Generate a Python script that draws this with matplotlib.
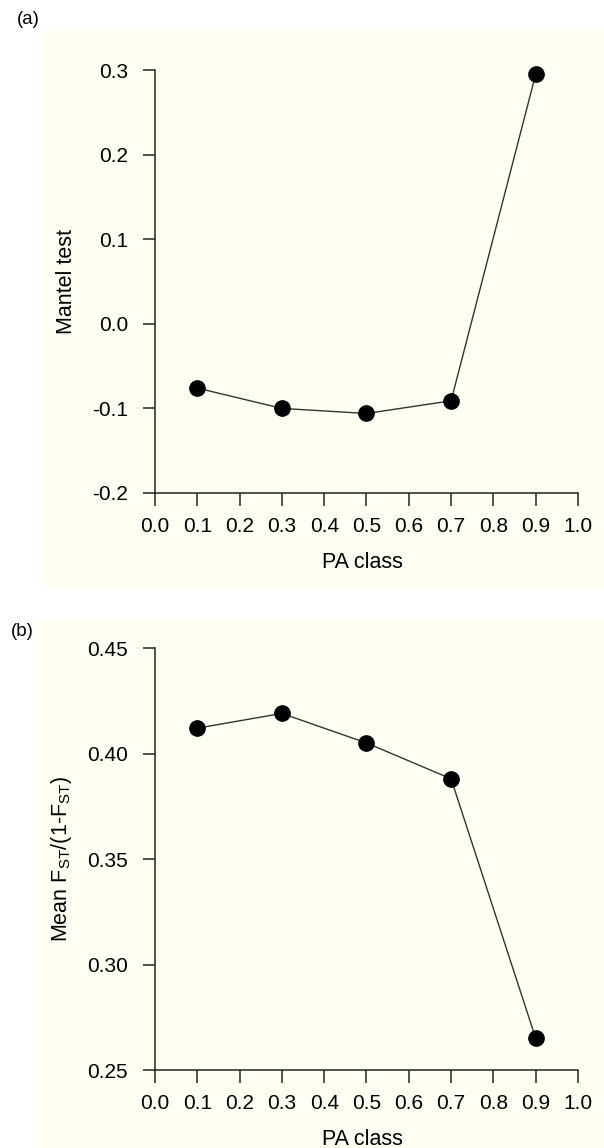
import matplotlib
matplotlib.use('Agg')
import matplotlib.pyplot as plt
from matplotlib.patches import Rectangle

plt.rcParams['font.family'] = ['Liberation Sans', 'DejaVu Sans']
plt.rcParams['mathtext.default'] = 'regular'

# data
pa_class = [0.1, 0.3, 0.5, 0.7, 0.9]
mantel = [-0.076, -0.100, -0.106, -0.091, 0.295]
mean_fst = [0.412, 0.419, 0.405, 0.388, 0.265]

x_ticks = [0.0, 0.1, 0.2, 0.3, 0.4, 0.5, 0.6, 0.7, 0.8, 0.9, 1.0]
mantel_ticks = [-0.2, -0.1, 0.0, 0.1, 0.2, 0.3]
fst_ticks = [0.25, 0.30, 0.35, 0.40, 0.45]

cream = '#fffef3'
tick_fs = 15
lab_fs = 15.5
W, H = 604, 1148

fig = plt.figure(figsize=(W / 100, H / 100), dpi=100)
fig.patch.set_facecolor('white')

# scanned cream background behind each panel
fig.patches.append(Rectangle((42 / W, 1 - 587 / H), 562 / W, 557 / H,
                             transform=fig.transFigure, color=cream, zorder=-5))
fig.patches.append(Rectangle((33 / W, 0), 571 / W, 1 - 620 / H,
                             transform=fig.transFigure, color=cream, zorder=-5))


def style(ax):
    ax.set_facecolor(cream)
    for s in ['top', 'right']:
        ax.spines[s].set_visible(False)
    for s in ['left', 'bottom']:
        ax.spines[s].set_linewidth(1.1)
        ax.spines[s].set_color('#222222')
    ax.tick_params(direction='out', length=9, width=1.1, color='#222222',
                   labelsize=tick_fs)
    ax.tick_params(axis='x', pad=8)
    ax.tick_params(axis='y', pad=10.5)
    ax.set_xlim(0.0, 1.0)
    ax.set_xticks(x_ticks)
    ax.set_xticklabels(['%.1f' % t for t in x_ticks])


#------------------------------------------------------------ (a) Mantel test
ax1 = fig.add_axes([155 / W, 1 - 493 / H, 423 / W, 423 / H])
style(ax1)
ax1.plot(pa_class, mantel, color='#333333', lw=1.0, marker='o', ms=11,
         mfc='black', mec='black', clip_on=False)
ax1.set_ylim(-0.2, 0.3)
ax1.set_yticks(mantel_ticks)
ax1.set_yticklabels(['%.1f' % t for t in mantel_ticks])
ax1.set_ylabel('Mantel test', fontsize=lab_fs)
ax1.set_xlabel('PA class', fontsize=lab_fs)
ax1.yaxis.set_label_coords(-0.185, 0.5)
ax1.xaxis.set_label_coords(0.49, -0.14)
fig.text(28 / W, 1 - 19 / H, '(a)', fontsize=13.4, ha='center', va='center')

#------------------------------------------------------------ (b) Mean Fst
ax2 = fig.add_axes([155 / W, 1 - 1070 / H, 423 / W, 422 / H])
style(ax2)
ax2.plot(pa_class, mean_fst, color='#333333', lw=1.0, marker='o', ms=11,
         mfc='black', mec='black', clip_on=False)
ax2.set_ylim(0.25, 0.45)
ax2.set_yticks(fst_ticks)
ax2.set_yticklabels(['%.2f' % t for t in fst_ticks])
ax2.set_ylabel('Mean F$_{ST}$/(1-F$_{ST}$)', fontsize=lab_fs)
ax2.set_xlabel('PA class', fontsize=lab_fs)
ax2.yaxis.set_label_coords(-0.192, 0.5)
ax2.xaxis.set_label_coords(0.49, -0.14)
fig.text(22 / W, 1 - 632 / H, '(b)', fontsize=13.4, ha='center', va='center')

fig.savefig('out.png', dpi=100, facecolor=fig.get_facecolor())
